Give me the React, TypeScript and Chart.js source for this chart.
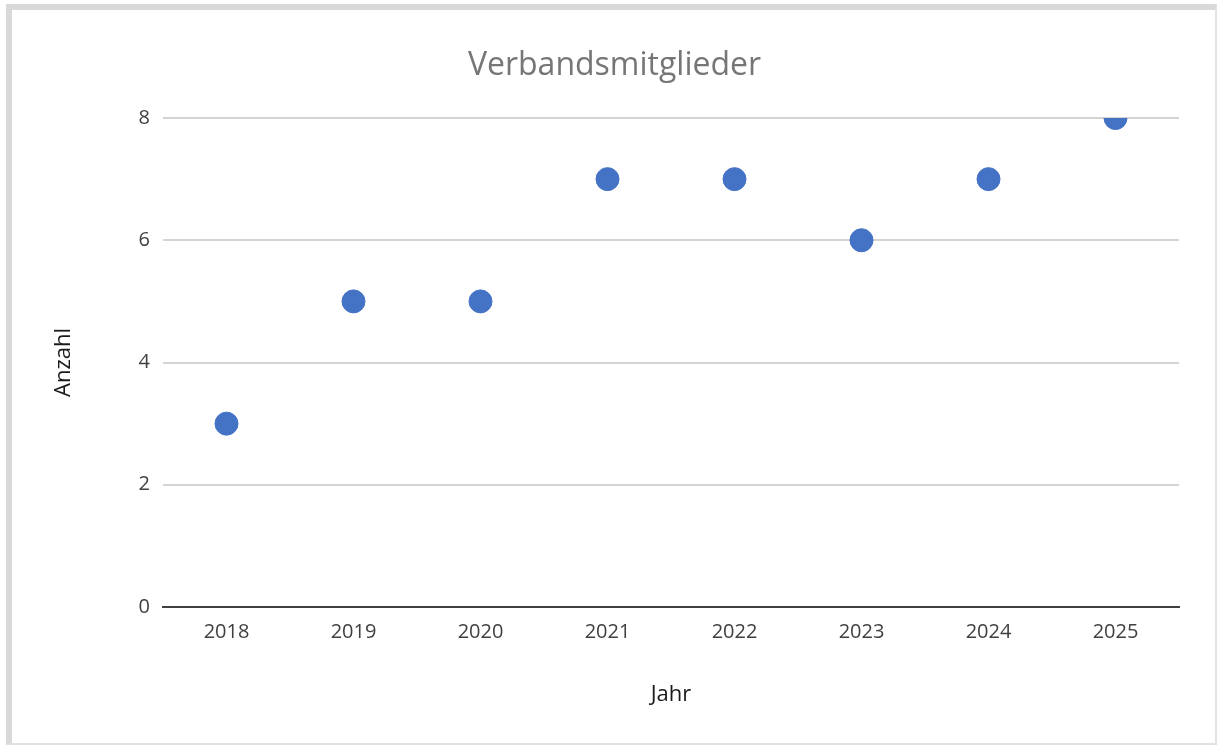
import React, { useEffect, useRef } from "react";
import { Chart, registerables } from "chart.js";

Chart.register(...registerables);

const years: string[] = ["2018", "2019", "2020", "2021", "2022", "2023", "2024", "2025"];
const members: number[] = [3, 5, 5, 7, 7, 6, 7, 8];
const chartTitle = "Verbandsmitglieder";
const xTitle = "Jahr";
const yTitle = "Anzahl";
const yMin = 0;
const yMax = 8;
const yStep = 2;

const FONT = "'Open Sans', 'Noto Sans', sans-serif";

export default function App() {
  const canvasRef = useRef<HTMLCanvasElement | null>(null);

  useEffect(() => {
    if (!canvasRef.current) return;
    const chart = new Chart(canvasRef.current, {
      type: "line",
      data: {
        labels: years,
        datasets: [
          {
            label: chartTitle,
            data: members,
            showLine: false,
            pointRadius: 11.5,
            pointHoverRadius: 11.5,
            pointBorderWidth: 1,
            pointBackgroundColor: "#4472C4",
            pointBorderColor: "#4472C4",
            borderColor: "#4472C4",
            backgroundColor: "#4472C4",
            clip: 0,
          },
        ],
      },
      options: {
        animation: false,
        responsive: false,
        maintainAspectRatio: false,
        events: [],
        layout: { padding: { left: 50, right: 40, top: 10, bottom: 37 } },
        plugins: {
          legend: { display: false },
          tooltip: { enabled: false },
          title: {
            display: true,
            text: chartTitle,
            color: "#767676",
            font: { family: FONT, size: 32, weight: "normal" },
            padding: { top: 36.4, bottom: 33.2 },
          },
        },
        scales: {
          x: {
            type: "category",
            offset: true,
            grid: { display: false, drawTicks: false },
            border: { display: true, color: "#404040", width: 2 },
            ticks: {
              color: "#404040",
              font: { family: FONT, size: 20 },
              padding: 13,
              maxRotation: 0,
            },
            title: {
              display: true,
              text: xTitle,
              color: "#1a1a1a",
              font: { family: FONT, size: 22 },
              padding: { top: 0, bottom: 0 },
            },
            afterFit: (scale: any) => {
              scale.height = 101;
            },
          },
          y: {
            min: yMin,
            max: yMax,
            grid: { color: "#d4d4d4", lineWidth: 2, drawTicks: false },
            border: { display: false },
            ticks: {
              stepSize: yStep,
              color: "#404040",
              font: { family: FONT, size: 20 },
              padding: 13,
            },
            title: {
              display: true,
              text: yTitle,
              color: "#1a1a1a",
              font: { family: FONT, size: 22 },
              padding: { top: 0.6, bottom: 0 },
            },
            afterFit: (scale: any) => {
              scale.width = 113;
            },
          },
        },
      },
    });
    return () => chart.destroy();
  }, []);

  return (
    <div style={{ position: "fixed", left: 0, top: 0, width: 1219, height: 745, background: "#fff" }}>
      <div
        style={{
          position: "absolute",
          left: 6,
          top: 4,
          width: 1211,
          height: 741,
          boxSizing: "border-box",
          borderTop: "6px solid #d9d9d9",
          borderLeft: "6px solid #d9d9d9",
          borderRight: "2px solid #e3e3e3",
          borderBottom: "2px solid #e3e3e3",
        }}
      />
      <canvas
        ref={canvasRef}
        width={1219}
        height={745}
        style={{ position: "absolute", left: 0, top: 0, width: 1219, height: 745 }}
      />
    </div>
  );
}
